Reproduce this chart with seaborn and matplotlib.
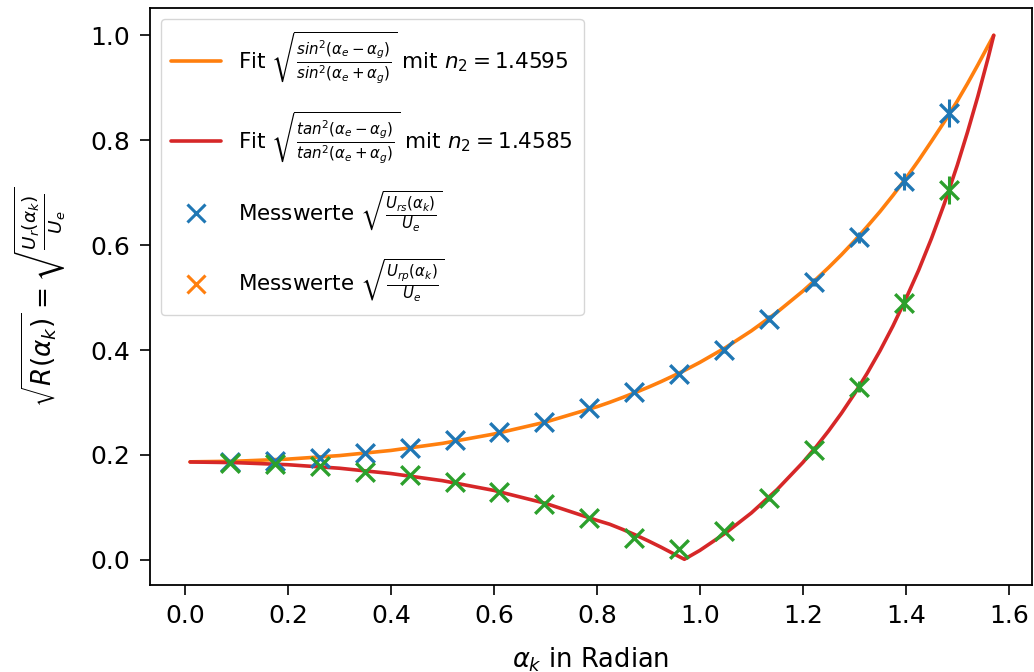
import matplotlib
matplotlib.use("Agg")
import matplotlib.pyplot as plt
from matplotlib.lines import Line2D
import seaborn as sns

# ---- data ----
fit_x = [0.01, 0.1, 0.2, 0.3, 0.4, 0.5, 0.6, 0.7, 0.8, 0.825, 0.85, 0.875, 0.9, 0.925,
         0.95, 0.97, 1.0, 1.05, 1.1, 1.15, 1.2, 1.225, 1.25, 1.275, 1.3, 1.325, 1.35,
         1.375, 1.4, 1.425, 1.45, 1.475, 1.5, 1.52, 1.54, 1.56, 1.5708]
fit_s = [0.1868, 0.1880, 0.1920, 0.1987, 0.2085, 0.2220, 0.2398, 0.2625, 0.2918, 0.3003,
         0.3095, 0.3190, 0.3291, 0.3399, 0.3514, 0.3610, 0.3764, 0.4046, 0.4365, 0.4720,
         0.5122, 0.5342, 0.5572, 0.5816, 0.6076, 0.6354, 0.6640, 0.6947, 0.7271, 0.7616,
         0.7981, 0.8354, 0.8746, 0.9083, 0.9437, 0.9804, 1.0]
fit_p = [0.1865, 0.1852, 0.1813, 0.1746, 0.1645, 0.1509, 0.1323, 0.1077, 0.0753, 0.0678,
         0.0580, 0.0474, 0.0360, 0.0239, 0.0110, 0.0010, 0.0179, 0.0511, 0.0893, 0.1339,
         0.1855, 0.2144, 0.2457, 0.2794, 0.3160, 0.3557, 0.3987, 0.4457, 0.4973, 0.5523,
         0.6130, 0.6794, 0.7523, 0.8159, 0.8838, 0.9573, 1.0]

meas_x = [0.0873, 0.1745, 0.2618, 0.3491, 0.4363, 0.5236, 0.6109, 0.6981, 0.7854,
          0.8727, 0.9599, 1.0472, 1.1345, 1.2217, 1.3090, 1.3963, 1.4835]
meas_s = [0.187, 0.189, 0.194, 0.203, 0.214, 0.228, 0.243, 0.263, 0.289,
          0.320, 0.355, 0.400, 0.460, 0.530, 0.615, 0.722, 0.852]
err_s = [0.003, 0.003, 0.003, 0.003, 0.003, 0.003, 0.003, 0.003, 0.003,
         0.004, 0.004, 0.005, 0.006, 0.007, 0.010, 0.016, 0.026]
meas_p = [0.185, 0.183, 0.178, 0.168, 0.162, 0.148, 0.130, 0.107, 0.080,
          0.042, 0.020, 0.055, 0.118, 0.210, 0.330, 0.490, 0.705]
err_p = [0.003, 0.003, 0.003, 0.003, 0.003, 0.003, 0.003, 0.003, 0.003,
         0.003, 0.003, 0.004, 0.005, 0.007, 0.010, 0.016, 0.026]

label_fit_s = r'Fit $\sqrt{\frac{sin^2(\alpha_e-\alpha_g)}{sin^2(\alpha_e+\alpha_g)}}$ mit $n_2=1.4595$'
label_fit_p = r'Fit $\sqrt{\frac{tan^2(\alpha_e-\alpha_g)}{tan^2(\alpha_e+\alpha_g)}}$ mit $n_2=1.4585$'
label_meas_s = r'Messwerte $\sqrt{\frac{U_{rs}(\alpha_k)}{U_e}}$'
label_meas_p = r'Messwerte $\sqrt{\frac{U_{rp}(\alpha_k)}{U_e}}$'

# ---- style ----
sns.set_style("white")
plt.rcParams['font.family'] = ['DejaVu Sans']
plt.rcParams['font.size'] = 18
plt.rcParams['mathtext.fontset'] = 'dejavusans'
plt.rcParams['text.color'] = 'black'
plt.rcParams['axes.labelcolor'] = 'black'
plt.rcParams['xtick.color'] = 'black'
plt.rcParams['ytick.color'] = 'black'

C0, C1, C2, C3 = '#1f77b4', '#ff7f0e', '#2ca02c', '#d62728'

fig, ax = plt.subplots(figsize=(10.34, 6.72), dpi=100)
fig.subplots_adjust(left=0.145, right=0.998, top=0.988, bottom=0.1295)

sns.lineplot(x=fit_x, y=fit_s, ax=ax, color=C1, lw=2.6, sort=False, zorder=2)
sns.lineplot(x=fit_x, y=fit_p, ax=ax, color=C3, lw=2.6, sort=False, zorder=2)

ax.errorbar(meas_x, meas_s, yerr=err_s, fmt='none', ecolor=C0, elinewidth=2.2, zorder=3)
sns.scatterplot(x=meas_x, y=meas_s, ax=ax, marker='x', color=C0, s=180,
                linewidth=2.4, zorder=3)
ax.errorbar(meas_x, meas_p, yerr=err_p, fmt='none', ecolor=C2, elinewidth=2.2, zorder=4)
sns.scatterplot(x=meas_x, y=meas_p, ax=ax, marker='x', color=C2, s=180,
                linewidth=2.4, zorder=4)

ax.set_xlim(-0.068, 1.645)
ax.set_ylim(-0.048, 1.052)
ax.set_xticks([0.0, 0.2, 0.4, 0.6, 0.8, 1.0, 1.2, 1.4, 1.6])
ax.set_yticks([0.0, 0.2, 0.4, 0.6, 0.8, 1.0])
ax.tick_params(axis='both', direction='out', length=7, width=1.2, labelsize=18,
               pad=7, bottom=True, left=True, color='black')
for sp in ax.spines.values():
    sp.set_color('black')
    sp.set_linewidth(1.3)

ax.set_xlabel(r'$\alpha_k$ in Radian', fontsize=18.5, labelpad=12)
ax.set_ylabel(r'$\sqrt{R(\alpha_k)} = \sqrt{\frac{U_r(\alpha_k)}{U_e}}$', fontsize=19, labelpad=16)

handles = [
    Line2D([], [], color=C1, lw=2.6),
    Line2D([], [], color=C3, lw=2.6),
    Line2D([], [], color=C0, marker='x', ls='none', markersize=13, mew=2.2),
    Line2D([], [], color=C1, marker='x', ls='none', markersize=13, mew=2.2),
]
ax.legend(handles, [label_fit_s, label_fit_p, label_meas_s, label_meas_p],
          loc='upper left', fontsize=15.5, frameon=True, framealpha=0.8,
          edgecolor='#cccccc', labelspacing=1.05, borderpad=0.5, handlelength=2.3,
          borderaxespad=0.5)

fig.savefig('out.png', dpi=100)
